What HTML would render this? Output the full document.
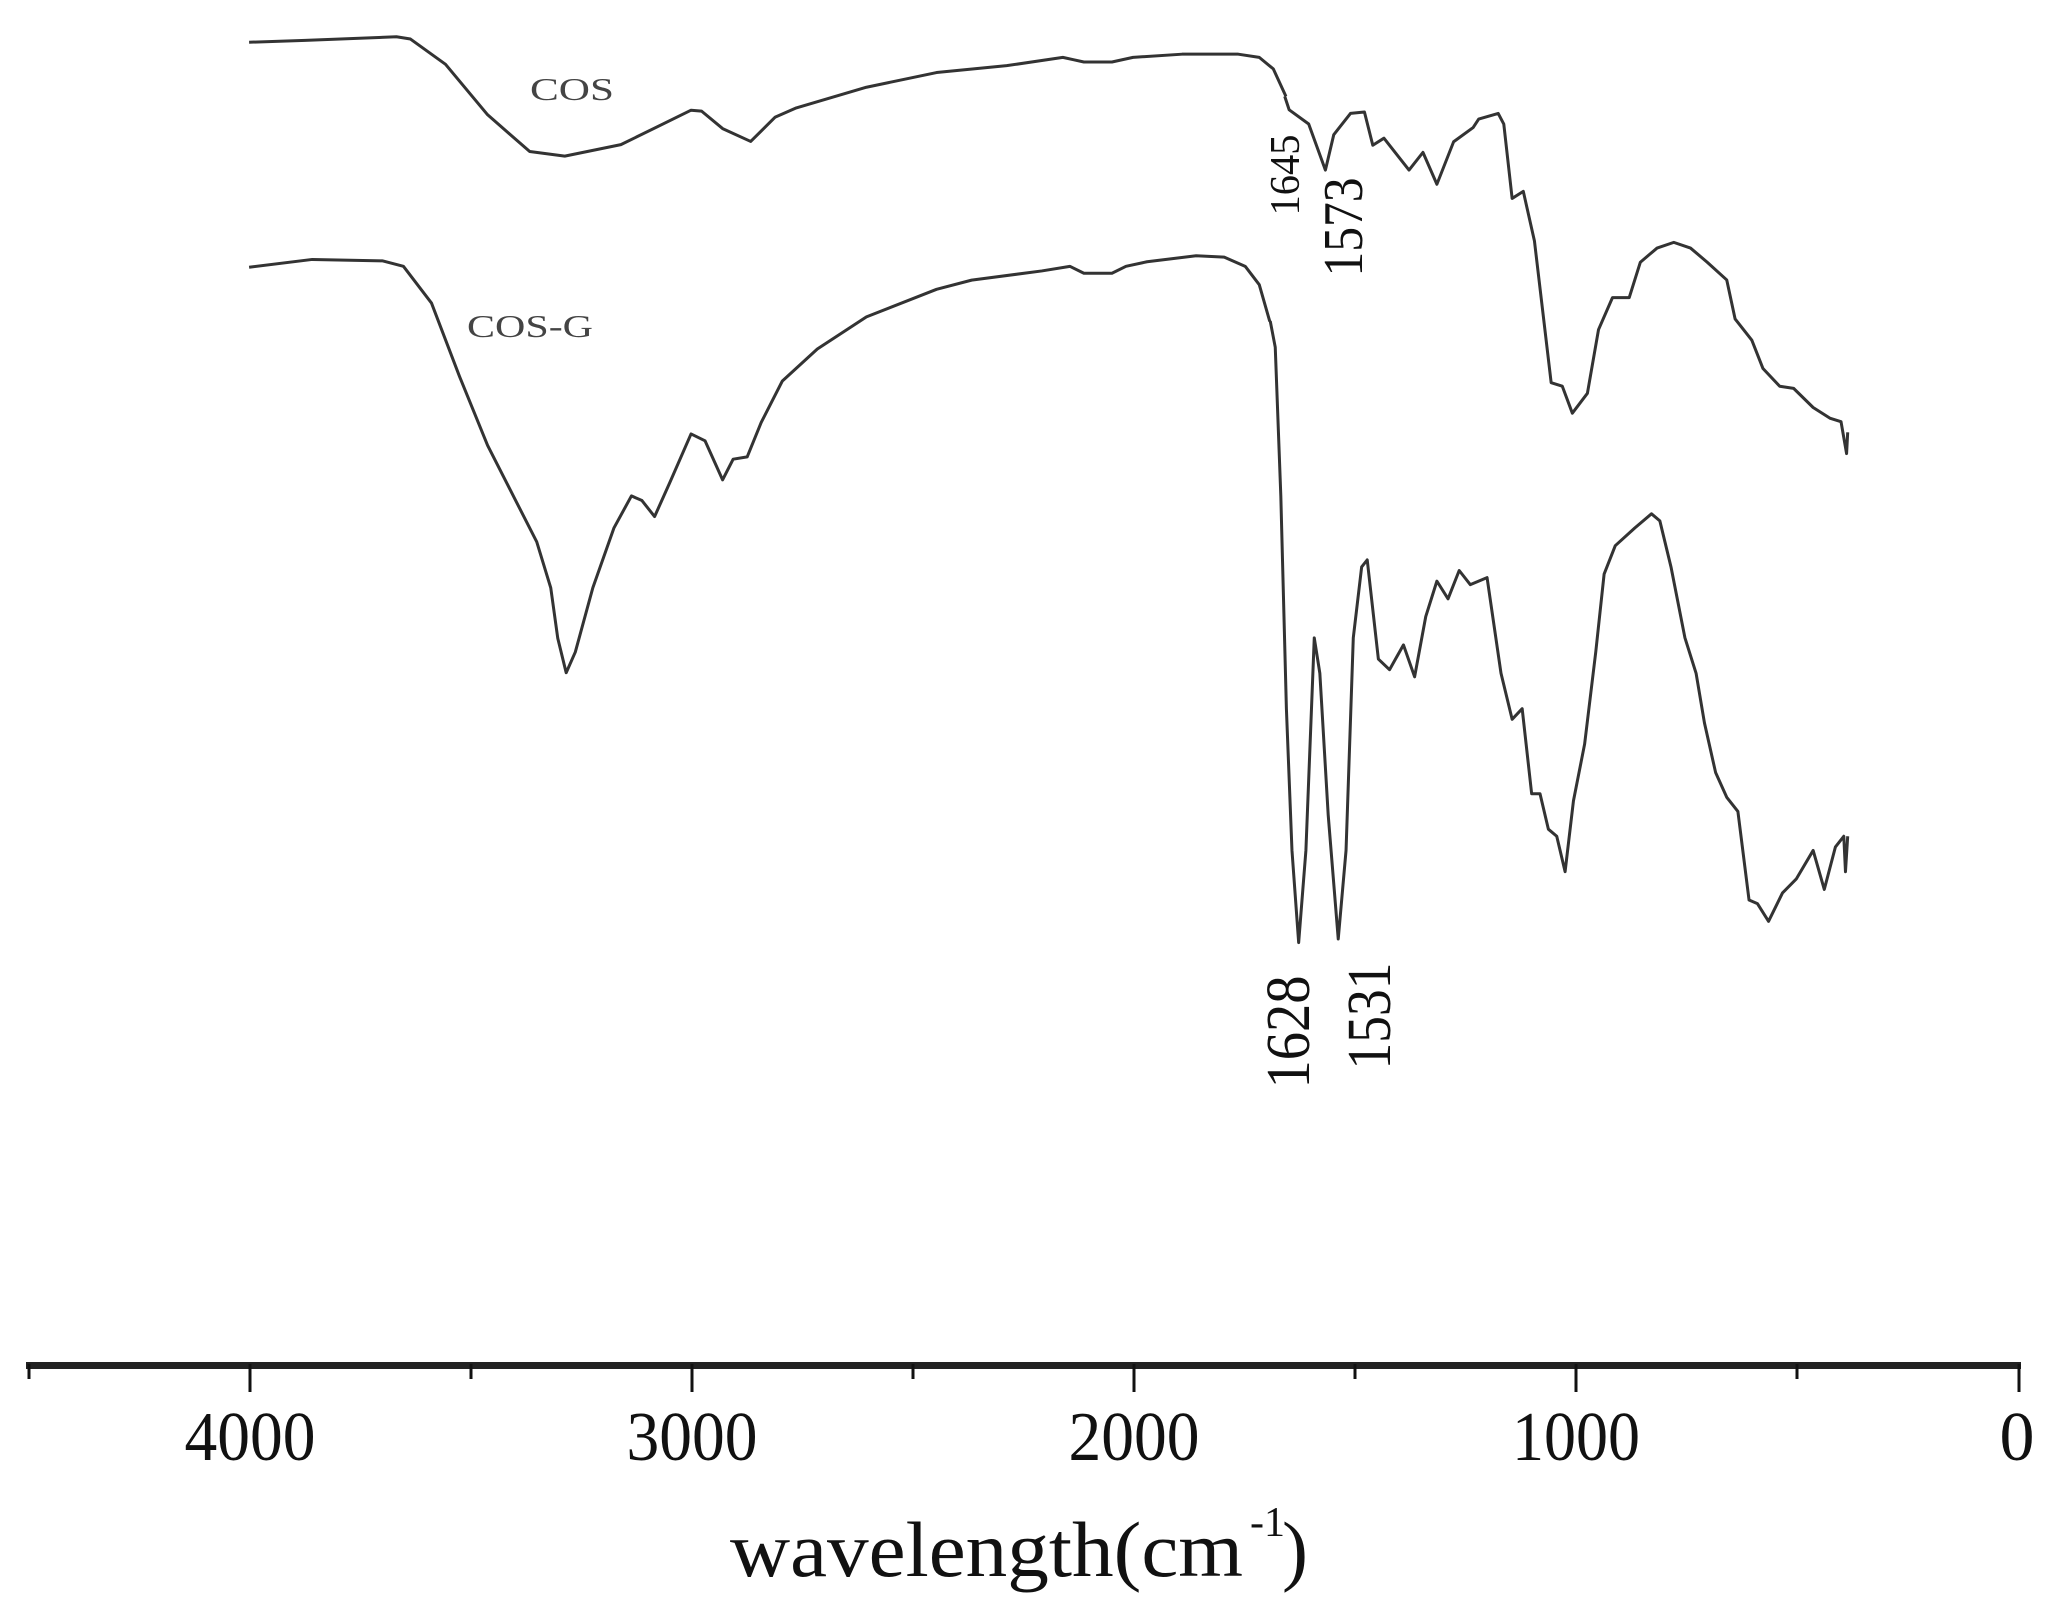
<!DOCTYPE html>
<html><head><meta charset="utf-8"><style>html,body{margin:0;padding:0;background:#fff}svg{display:block}</style></head>
<body>
<svg width="2065" height="1617" viewBox="0 0 2065 1617" xmlns="http://www.w3.org/2000/svg">
<rect width="2065" height="1617" fill="#fff"/>
<g fill="none" stroke="#333" stroke-width="3" stroke-linejoin="round">
<g transform="translate(200,0) scale(0.7015,0.4592)">
<polyline vector-effect="non-scaling-stroke" points="70,92 150,88 280,80 300,85 350,140 410,250 470,330 520,340 600,315 700,240 715,242 745,280 785,308 820,255 850,235 950,190 1050,158 1150,143 1230,125 1245,130 1260,135 1300,135 1330,125 1400,118 1480,118 1510,125 1530,150 1548,210"/>
<polyline vector-effect="non-scaling-stroke" points="70,582 160,565 260,568 290,580 330,660 370,820 410,970 450,1090 480,1180 500,1280 510,1390 522,1465 535,1420 560,1280 590,1150 615,1080 630,1090 648,1125 670,1050 700,945 720,960 745,1045 760,1000 780,995 800,920 830,830 880,760 950,690 1050,630 1100,610 1200,590 1240,580 1260,595 1300,595 1320,580 1350,570 1420,557 1460,560 1490,580 1510,620 1525,700"/>
</g>
<g transform="translate(1200,0) scale(0.5574,0.7087)">
<polyline vector-effect="non-scaling-stroke" points="152,136 160,155 195,175 225,240 240,190 270,160 295,158 310,205 330,195 375,240 400,215 425,260 455,200 490,180 500,168 535,160 545,175 560,280 580,270 600,340 630,540 650,545 668,583 695,555 715,465 740,420 770,420 790,370 820,350 850,342 880,350 910,370 945,395 960,450 990,480 1010,520 1040,545 1065,548 1100,575 1130,590 1150,595 1160,640 1162,610"/>
<polyline vector-effect="non-scaling-stroke" points="126,453 135,490 145,700 155,1000 165,1200 177,1330 190,1200 205,900 215,950 230,1150 248,1325 262,1200 275,900 290,800 300,790 320,930 340,945 365,910 385,955 405,870 425,820 445,845 465,805 485,825 515,815 540,950 560,1015 578,1000 595,1120 610,1120 625,1170 640,1180 655,1230 670,1130 690,1050 710,920 725,810 745,770 780,745 810,725 825,735 845,800 870,900 890,950 905,1020 925,1090 945,1125 965,1145 985,1270 1000,1275 1020,1300 1045,1260 1070,1240 1100,1200 1120,1255 1140,1195 1155,1180 1158,1230 1162,1180"/>
</g>
</g>
<g font-family="Liberation Serif, serif" fill="#444">
<text x="572" y="100" font-size="32" text-anchor="middle" textLength="84" lengthAdjust="spacingAndGlyphs">COS</text>
<text x="530" y="337" font-size="32" text-anchor="middle" textLength="126" lengthAdjust="spacingAndGlyphs">COS-G</text>
</g>
<g font-family="Liberation Serif, serif" fill="#111">
<text transform="translate(1299,175) rotate(-90)" font-size="42" text-anchor="middle" textLength="81" lengthAdjust="spacingAndGlyphs">1645</text>
<text transform="translate(1362,227) rotate(-90)" font-size="56" text-anchor="middle" textLength="99" lengthAdjust="spacingAndGlyphs">1573</text>
<text transform="translate(1309,1032) rotate(-90)" font-size="62" text-anchor="middle" textLength="113" lengthAdjust="spacingAndGlyphs">1628</text>
<text transform="translate(1390,1016) rotate(-90)" font-size="62" text-anchor="middle" textLength="107" lengthAdjust="spacingAndGlyphs">1531</text>
</g>
<rect x="26" y="1362" width="1995" height="7" fill="#222"/>
<g stroke="#111" stroke-width="3">
<line x1="250" y1="1364" x2="250" y2="1392"/><line x1="692" y1="1364" x2="692" y2="1392"/><line x1="1134" y1="1364" x2="1134" y2="1392"/><line x1="1576" y1="1364" x2="1576" y2="1392"/><line x1="2019" y1="1364" x2="2019" y2="1392"/>
<line x1="29" y1="1364" x2="29" y2="1379"/><line x1="471" y1="1364" x2="471" y2="1379"/><line x1="913" y1="1364" x2="913" y2="1379"/><line x1="1355" y1="1364" x2="1355" y2="1379"/><line x1="1797" y1="1364" x2="1797" y2="1379"/>
</g>
<g font-family="Liberation Serif, serif" fill="#111" font-size="70" text-anchor="middle">
<text x="250" y="1460" textLength="131" lengthAdjust="spacingAndGlyphs">4000</text>
<text x="692" y="1460" textLength="131" lengthAdjust="spacingAndGlyphs">3000</text>
<text x="1134" y="1460" textLength="131" lengthAdjust="spacingAndGlyphs">2000</text>
<text x="1576" y="1460" textLength="128" lengthAdjust="spacingAndGlyphs">1000</text>
<text x="2017" y="1460">0</text>
</g>
<text x="730" y="1576" font-family="Liberation Serif, serif" font-size="78" fill="#111" textLength="513" lengthAdjust="spacingAndGlyphs">wavelength(cm</text>
<text x="1250" y="1536" font-family="Liberation Serif, serif" font-size="42" fill="#111">-1</text>
<text x="1282" y="1576" font-family="Liberation Serif, serif" font-size="78" fill="#111">)</text>
</svg>
</body></html>
